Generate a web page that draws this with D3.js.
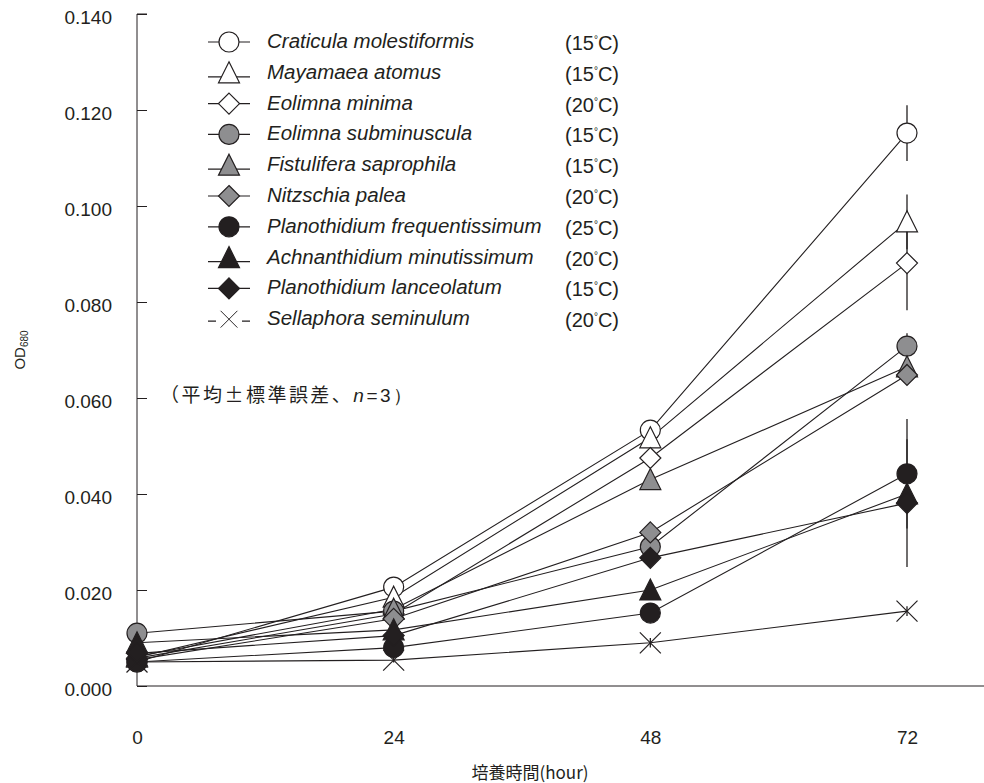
<!DOCTYPE html>
<html>
<head>
<meta charset="utf-8">
<script src="https://cdn.jsdelivr.net/npm/d3@7"></script>
<style>
  body { margin: 0; background: #fff; }
  text { font-family: "Liberation Sans", Arial, sans-serif; fill: #231f20; }
  .jp { font-family: "Noto Sans CJK JP", "Liberation Sans", sans-serif; }
</style>
</head>
<body>
<div class="chart"></div>
<script>
var svgWidth = 984;
var svgHeight = 783;

// data
var hours = [0, 24, 48, 72];
var yTicks = [0, 0.02, 0.04, 0.06, 0.08, 0.1, 0.12, 0.14];

var species = [
  "Craticula molestiformis", "Mayamaea atomus", "Eolimna minima",
  "Eolimna subminuscula", "Fistulifera saprophila", "Nitzschia palea",
  "Planothidium frequentissimum", "Achnanthidium minutissimum",
  "Planothidium lanceolatum", "Sellaphora seminulum"
];
var temps = ["15", "15", "20", "15", "15", "20", "25", "20", "15", "20"];
var shapes = ["circle", "triangle", "diamond", "circle", "triangle", "diamond",
  "circle", "triangle", "diamond", "cross"];
var fills = ["#fff", "#fff", "#fff", "#8e8e90", "#8e8e90", "#8e8e90",
  "#231f20", "#231f20", "#231f20", "none"];

var od = [
  [0.0050, 0.0206, 0.0533, 0.1152],
  [0.0060, 0.0185, 0.0517, 0.0967],
  [0.0058, 0.0150, 0.0475, 0.0881],
  [0.0110, 0.0156, 0.0290, 0.0708],
  [0.0062, 0.0160, 0.0430, 0.0665],
  [0.0055, 0.0140, 0.0320, 0.0648],
  [0.0050, 0.0080, 0.0152, 0.0442],
  [0.0090, 0.0117, 0.0200, 0.0400],
  [0.0068, 0.0105, 0.0267, 0.0381],
  [0.0050, 0.0054, 0.0090, 0.0156]
];
var se = [
  [0.0005, 0.0010, 0.0012, 0.0058],
  [0.0005, 0.0010, 0.0012, 0.0057],
  [0.0005, 0.0010, 0.0012, 0.0098],
  [0.0005, 0.0010, 0.0012, 0.0027],
  [0.0005, 0.0010, 0.0012, 0.0020],
  [0.0005, 0.0010, 0.0012, 0.0020],
  [0.0005, 0.0010, 0.0012, 0.0114],
  [0.0005, 0.0010, 0.0012, 0.0040],
  [0.0005, 0.0010, 0.0012, 0.0133],
  [0.0005, 0.0005, 0.0010, 0.0010]
];

var svg = d3.select(".chart")
  .append("svg")
  .attr("width", svgWidth)
  .attr("height", svgHeight);

var x = d3.scaleLinear().domain([0, 72]).range([137, 907]);
var y = d3.scaleLinear().domain([0, 0.14]).range([686, 14]);

// marker paths centred on 0,0
function markerPath(shape) {
  if (shape === "circle") return "M-10,0A10,10 0 1,0 10,0A10,10 0 1,0 -10,0Z";
  if (shape === "triangle") return "M0,-11L10.5,10L-10.5,10Z";
  if (shape === "diamond") return "M0,-10.5L10.5,0L0,10.5L-10.5,0Z";
  return "M-10.5,-10.5L10.5,10.5M10.5,-10.5L-10.5,10.5";
}

// axes
var leftAxis = d3.axisLeft(y).tickValues(yTicks).tickSize(-10).tickPadding(25)
  .tickFormat(d3.format(".3f"));
var gy = svg.append("g").attr("transform", "translate(137,0)").call(leftAxis);
gy.select(".domain").attr("d", "M10,14H0V686").attr("stroke", "#231f20");
gy.selectAll(".tick line").attr("stroke", "#231f20");
gy.selectAll(".tick text").style("font-size", "19px").attr("dy", "0.5em")
  .attr("fill", "#231f20");

var bottomAxis = d3.axisBottom(x).tickValues(hours).tickSize(0).tickPadding(45);
var gx = svg.append("g").attr("transform", "translate(0,686)").call(bottomAxis);
gx.select(".domain").attr("d", "M137,0H984").attr("stroke", "#231f20");
gx.selectAll(".tick text").style("font-size", "19px").attr("fill", "#231f20");

svg.append("text")
  .attr("class", "jp")
  .attr("x", 530).attr("y", 779)
  .attr("text-anchor", "middle")
  .style("font-size", "17px")
  .text("培養時間(hour)");

var yl = svg.append("text")
  .attr("transform", "translate(25,350) rotate(-90)")
  .attr("text-anchor", "middle")
  .style("font-size", "15px");
yl.append("tspan").text("OD");
yl.append("tspan").attr("dy", 3).style("font-size", "10px").text("680");

// error bars
var plot = svg.append("g");
od.forEach(function (vals, i) {
  plot.selectAll(null)
    .data(hours)
    .enter()
    .append("line")
    .attr("x1", function (h) { return x(h); })
    .attr("x2", function (h) { return x(h); })
    .attr("y1", function (h, j) { return y(vals[j] - se[i][j]); })
    .attr("y2", function (h, j) { return y(vals[j] + se[i][j]); })
    .attr("stroke", "#231f20")
    .attr("stroke-width", 1.3);
});

// lines
var line = d3.line()
  .x(function (d) { return x(d[0]); })
  .y(function (d) { return y(d[1]); });

od.forEach(function (vals) {
  plot.append("path")
    .attr("d", line(hours.map(function (h, j) { return [h, vals[j]]; })))
    .attr("fill", "none")
    .attr("stroke", "#231f20")
    .attr("stroke-width", 1.1);
});

// markers
od.forEach(function (vals, i) {
  plot.selectAll(null)
    .data(hours)
    .enter()
    .append("path")
    .attr("transform", function (h, j) { return `translate(${x(h)},${y(vals[j])})`; })
    .attr("d", markerPath(shapes[i]))
    .attr("fill", fills[i])
    .attr("stroke", "#231f20")
    .attr("stroke-width", 1.2);
});

// legend
var legend = svg.append("g");
species.forEach(function (name, i) {
  var ly = 42 + i * 30.8;
  var row = legend.append("g").attr("transform", `translate(229,${ly})`);
  if (shapes[i] === "cross") {
    row.append("path").attr("d", "M-21,2H-13M13,2H21")
      .attr("stroke", "#231f20").attr("stroke-width", 1.2);
  } else {
    row.append("line").attr("x1", -21).attr("x2", 21)
      .attr("y1", shapes[i] === "triangle" ? 4 : 0)
      .attr("y2", shapes[i] === "triangle" ? 4 : 0)
      .attr("stroke", "#231f20").attr("stroke-width", 1.2);
  }
  row.append("path")
    .attr("transform", shapes[i] === "cross" ? "scale(0.8)" : null)
    .attr("d", markerPath(shapes[i]))
    .attr("fill", fills[i])
    .attr("stroke", "#231f20")
    .attr("stroke-width", 1.2);
  row.append("text")
    .attr("x", 38).attr("y", 6)
    .style("font-size", "20.5px")
    .style("font-style", "italic")
    .text(name);
  var t = row.append("text")
    .attr("x", 336).attr("y", 8)
    .style("font-size", "20px");
  t.append("tspan").text("(" + temps[i]);
  t.append("tspan").attr("dy", -7).style("font-size", "10px").text("°");
  t.append("tspan").attr("dy", 7).text("C)");
});

var note = svg.append("text")
  .attr("class", "jp")
  .attr("x", 160).attr("y", 402)
  .attr("textLength", 252)
  .attr("lengthAdjust", "spacing")
  .style("font-size", "19px");
note.append("tspan").text("（平均±標準誤差、");
note.append("tspan").style("font-style", "italic")
  .style("font-family", "'Liberation Sans', Arial, sans-serif").text("n");
note.append("tspan").style("font-family", "'Liberation Sans', Arial, sans-serif").text("=3）");
</script>
</body>
</html>
